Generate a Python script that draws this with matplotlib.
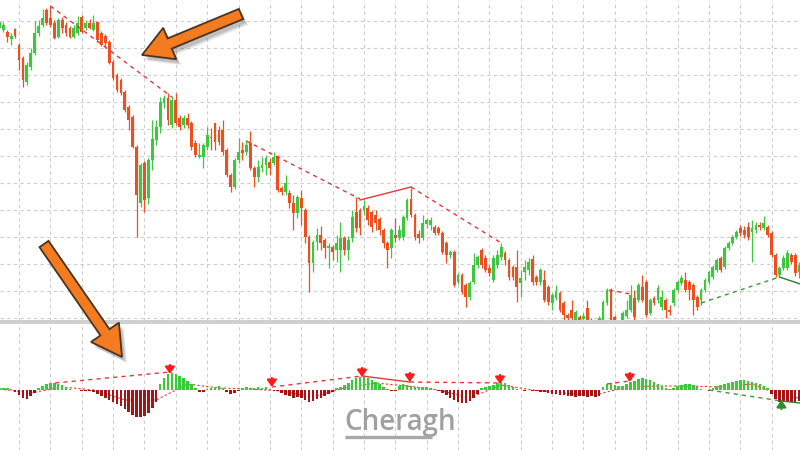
import matplotlib
matplotlib.use("Agg")
import matplotlib.pyplot as plt
from matplotlib.patches import FancyArrow, Rectangle

# ---------------- data (price units, arbitrary scale) ----------------
opens = [302,300,298,291,301,285,272,248,263,277,
         297,305,320,312,307,293,310,305,302,293,
         297,313,302,307,300,308,297,294,288,268,
         255,250,238,223,213,183,127,167,132,170,
         190,203,227,232,205,230,212,205,212,207,
         187,173,173,183,193,207,200,200,180,155,
         143,170,180,178,187,162,153,162,165,168,
         167,173,142,138,137,127,117,132,120,93,
         67,88,95,90,82,83,80,80,92,80,
         92,118,120,120,122,118,115,111,100,87,
         82,95,92,93,112,131,115,96,92,106,
         105,103,102,97,87,75,78,48,55,45,
         33,48,65,80,72,62,50,65,73,77,
         70,63,63,47,58,60,71,53,48,50,
         43,27,32,37,27,15,20,10,13,11,
         22,10,5,-2,10,27,40,13,8,8,
         14,20,32,30,43,48,17,32,30,23,
         30,20,27,40,47,50,48,45,33,30,
         40,48,53,60,72,63,82,87,93,102,
         100,103,98,100,105,102,103,97,75,55,
         62,62,75,75,58]
closes = [308,305,293,294,294,270,250,265,277,297,
          304,312,307,305,292,310,302,297,293,302,
          307,298,307,302,307,290,285,287,267,252,
          240,237,220,210,183,135,165,130,170,191,
          203,228,232,210,230,207,203,212,205,183,
          175,175,185,195,192,188,188,178,155,143,
          170,178,177,185,162,153,163,165,172,162,
          173,140,138,147,127,117,133,122,93,67,
          88,95,87,82,84,78,87,92,80,90,
          113,102,102,124,110,103,107,100,87,80,
          100,92,100,113,130,115,93,92,107,110,
          110,97,97,78,75,78,45,55,38,33,
          47,65,73,65,60,57,72,75,83,70,
          53,53,43,52,63,68,48,48,60,30,
          28,35,38,20,15,12,12,18,10,14,
          10,0,-5,12,28,40,10,8,0,17,
          20,35,13,45,30,15,30,27,42,33,
          20,18,40,48,52,40,40,30,23,40,
          50,58,63,70,60,82,87,93,98,97,
          95,93,102,105,103,107,95,75,55,62,
          72,77,68,57,65]
highs = [310,308,300,297,302,287,274,268,282,309,
         310,321,322,324,310,312,313,308,304,305,
         314,315,310,311,315,309,299,296,290,270,
         257,252,240,225,215,185,167,169,172,210,
         210,233,235,237,234,237,215,215,217,209,
         190,187,187,203,202,207,204,210,182,157,
         172,192,188,190,199,164,170,173,175,172,
         178,175,144,155,140,135,135,140,122,95,
         90,102,104,92,87,85,95,108,94,94,
         120,133,122,130,125,120,120,113,102,89,
         102,112,105,115,132,142,117,100,115,112,
         113,105,104,99,89,80,80,57,57,47,
         49,77,75,82,75,65,75,80,87,79,
         72,65,80,60,70,72,75,55,62,60,
         45,37,45,39,29,17,30,20,15,17,
         30,12,8,14,30,42,42,15,10,19,
         30,45,40,47,55,50,32,34,45,40,
         32,25,42,50,55,58,50,47,35,42,
         52,60,65,72,74,84,89,95,100,105,
         104,108,110,108,108,114,105,99,77,64,
         75,80,77,77,68]
lows = [300,298,288,285,292,260,243,245,260,275,
        294,303,305,303,291,292,297,294,292,292,
        295,297,300,301,299,288,284,282,266,250,
        238,235,218,200,182,93,123,118,126,160,
        185,197,222,205,202,205,200,202,202,180,
        173,172,162,180,180,180,185,175,153,138,
        141,167,170,175,160,143,148,158,155,155,
        165,138,135,135,122,100,112,105,87,38,
        58,80,80,72,62,70,68,58,75,70,
        88,98,95,115,105,98,100,95,82,62,
        72,88,90,90,110,113,90,87,90,102,
        100,95,95,76,67,72,43,46,36,23,
        30,46,62,62,58,54,48,62,70,65,
        50,50,28,33,50,55,45,45,45,28,
        25,20,30,18,10,8,8,5,0,5,
        5,-5,-10,-5,5,25,8,2,-5,5,
        12,18,10,28,28,13,15,25,27,20,
        12,15,24,38,45,38,30,15,20,25,
        38,46,51,58,58,61,80,85,91,94,
        92,90,68,97,100,100,93,73,53,53,
        60,60,66,54,52]

# oscillator histogram (lower panel)
hist = [2,2,2,1,-2,-5,-8,-9,-6,-3,
        2,4,6,7,7,6,5,3,1,0.5,
        0.5,-0.5,-0.5,-1,-2,-4,-6,-8,-10,-12,
        -14,-16,-19,-22,-25,-27,-27,-26,-23,-18,
        -12,6,12,16,17,16,14,12,9,6,
        2,-2,-2,1,2,3,4,2,-2,-4,
        -3,-1,2,3,2,2,3,2,3,1,
        -1,-1,-3,-5,-6,-8,-7,-8,-10,-12,
        -11,-9,-8,-6,-4,-2,2,3,5,7,
        10,12,13,13,12,10,8,6,3,1,
        -1,-1,4,6,5,4,3,3,3,3,
        2,1,-1,-3,-5,-8,-10,-12,-13,-13,
        -11,-8,-4,2,3,4,5,7,8,7,
        5,3,1,0.5,-0.5,0.5,-0.5,-1,-1.5,-2,
        -3,-4,-4,-5,-5,-6,-6,-7,-6,-6,
        -7,-6,-7,-6,3,6,7,5,4,4,
        6,8,9,11,12,11,10,8,6,4,
        2,1,2,4,5,6,6,5,3,1,
        0.5,-0.5,2,4,5,6,7,8,9,10,
        10,9,8,7,6,4,2,-4,-9,-12,
        -12,-12,-12,-12,-11]
sig_idx = [0, 8, 16, 24, 32, 40, 48, 56, 64, 72, 80, 88, 96, 104, 112,
           120, 128, 136, 144, 152, 160, 168, 176, 184, 192, 200, 204]
sig_val = [1, -3, 3, 0, -10, -10, 6, 2, 1, -1, -7, 2, 7, 4, 0,
           -8, 5, 0, -3, -5, 3, 4, 4, 3, 6, -6, -8]

# divergence lines: (x0, y0, x1, y1, color, style)
price_lines = [(13, 324, 44, 233, "#e03a3a", "dash"),
               (63, 189, 92, 131, "#e03a3a", "dash"),
               (92, 130, 105, 143, "#e03a3a", "solid"),
               (105, 143, 128, 87, "#e03a3a", "dash"),
               (155.5, 40, 161, 36, "#e03a3a", "dash"),
               (179, 27, 199, 53, "#3a9a3a", "dash"),
               (199, 53, 204.3, 46, "#2f7a2f", "solid")]
osc_lines = [(14.2, 7, 43.5, 18, "#e03a3a", "dash"),
             (69.5, 3, 92.5, 14, "#e03a3a", "dash"),
             (92.5, 14, 104.7, 8, "#e03a3a", "solid"),
             (104.7, 8, 127.7, 7, "#e03a3a", "dash"),
             (155, 6, 160.8, 9, "#e03a3a", "dash"),
             (181, 0, 199.5, -11, "#3a9a3a", "dash"),
             (199.5, -11, 204.3, -13, "#2f7a2f", "solid")]
down_marks = [(43.5, 16), (69.5, 3), (92.5, 13), (104.7, 8), (127.7, 6), (160.8, 8)]
up_marks = [(199.5, -10)]

# ---------------- figure ----------------
W, H = 800, 450
fig = plt.figure(figsize=(8, 4.5), dpi=100)
fig.patch.set_facecolor("white")

ax = fig.add_axes([0, 1 - 321 / H, 1, 321 / H])
ax2 = fig.add_axes([0, 0, 1, (H - 323) / H])

XL = (0.6 / 3.92, 800.6 / 3.92)
grid_kw = dict(color="#cdcdcd", lw=0.8, linestyle=(0, (3, 3)), zorder=0)

for a in (ax, ax2):
    a.set_xlim(*XL)
    a.axis("off")
    for gx in range(5, 205, 8):
        a.axvline(gx, **grid_kw)

ax.set_ylim(9, 330)
for gy in range(309, 0, -27):
    ax.axhline(gy, **grid_kw)

GREEN = "#3cc83c"
RED = "#f04e1e"
for i, (o, h, l, c) in enumerate(zip(opens, highs, lows, closes)):
    col = GREEN if c >= o else RED
    ax.vlines(i, l, h, color=col, lw=0.9, zorder=2)
    body = max(abs(c - o), 1.2)
    ax.bar(i, body, bottom=min(o, c), width=0.72, color=col, zorder=3, linewidth=0)

def draw_lines(a, lines):
    for x0, y0, x1, y1, col, st in lines:
        ls = (0, (3, 3)) if st == "dash" else "-"
        a.plot([x0, x1], [y0, y1], color=col, lw=1.0, linestyle=ls, zorder=5)

draw_lines(ax, price_lines)

# lower panel
ax2.set_ylim(-60, 67)
ax2.plot(sig_idx, sig_val, color="#e03a3a", lw=0.8, linestyle=(0, (2, 2)), zorder=1)
hcols = ["#36cc36" if v > 0 else "#a51414" for v in hist]
ax2.bar(range(len(hist)), hist, width=0.66, color=hcols, linewidth=0, zorder=3)
draw_lines(ax2, osc_lines)
for x, y in down_marks:
    ax2.annotate("", xy=(x, y), xytext=(x, y + 9),
                 arrowprops=dict(arrowstyle="-|>,head_width=0.35,head_length=0.5",
                                 color="#ff1a1a", lw=1.6, mutation_scale=8,
                                 shrinkA=0, shrinkB=0), zorder=6)
for x, y in up_marks:
    ax2.annotate("", xy=(x, y), xytext=(x, y - 9),
                 arrowprops=dict(arrowstyle="-|>,head_width=0.35,head_length=0.5",
                                 color="#2e8b2e", lw=1.6, mutation_scale=8,
                                 shrinkA=0, shrinkB=0), zorder=6)

# overlay in pixel coordinates
ov = fig.add_axes([0, 0, 1, 1], facecolor="none")
ov.set_xlim(0, W)
ov.set_ylim(H, 0)
ov.axis("off")
ov.add_patch(Rectangle((0, 319.5), W, 4, color="#cfcfcf", lw=0, zorder=1))

def big_arrow(tail, tip):
    dx, dy = tip[0] - tail[0], tip[1] - tail[1]
    for k, al in ((5, 0.10), (4, 0.14), (3, 0.18)):
        ov.add_patch(FancyArrow(tail[0] + k, tail[1] + k + 1, dx, dy, width=11,
                                head_width=34, head_length=30,
                                length_includes_head=True, color="#555555",
                                alpha=al, lw=0, zorder=7))
    ov.add_patch(FancyArrow(tail[0], tail[1], dx, dy, width=11, head_width=34,
                            head_length=30, length_includes_head=True,
                            facecolor="#f47b20", edgecolor="#4a3420",
                            lw=1.3, zorder=8))

big_arrow((241, 14), (142, 55))
big_arrow((44, 244), (122, 357))

ov.text(344, 430, "Cheragh", fontsize=20, color="#a0a0a0", family="Open Sans",
        fontweight="semibold", ha="left", va="baseline", zorder=9)
ov.plot([345, 432], [437, 437], color="#a8a8a8", lw=2.4, solid_capstyle="butt", zorder=9)

fig.savefig("out.png", dpi=100)
